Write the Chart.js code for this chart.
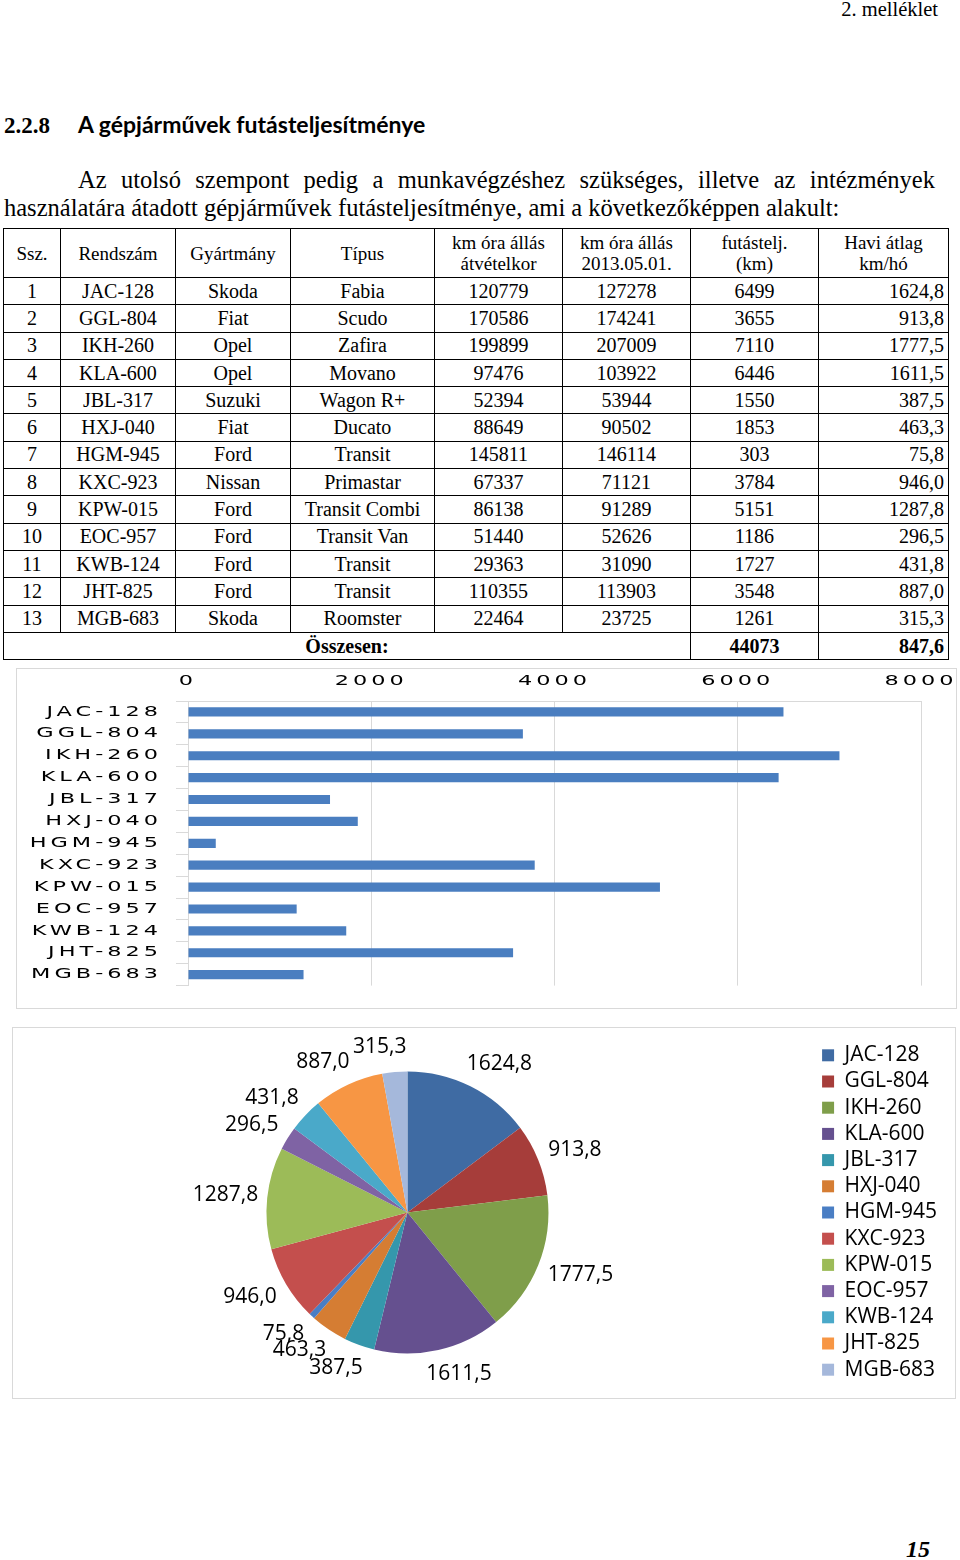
<!DOCTYPE html>
<html lang="hu">
<head>
<meta charset="utf-8">
<script src="https://cdn.jsdelivr.net/npm/chart.js@4.4.1/dist/chart.umd.min.js"></script>
<style>
  body { margin: 0; width: 960px; height: 1560px; position: relative; background: #fff; font-family: "Liberation Serif", serif; color: #000; overflow: hidden; }
  .abs { position: absolute; }
  #hdr { right: 22px; top: -2px; font-size: 20.5px; }
  #title { left: 4px; top: 110px; font-size: 23px; font-weight: bold; white-space: nowrap; }
  #title .num { font-family: "Liberation Serif", serif; display: inline-block; width: 74px; }
  #title .txt { font-family: Lato, sans-serif; }
  .line { font-size: 24.5px; white-space: nowrap; line-height: 28px; }
  #l1 { left: 78px; width: 857px; top: 166px; text-align: justify; text-align-last: justify; white-space: normal; }
  #l2 { left: 4px; top: 194px; }
  table { position: absolute; left: 3px; top: 228px; width: 945px; border-collapse: collapse; font-size: 20px; table-layout: fixed; }
  td, th { border: 1px solid #000; padding: 0 4px; text-align: center; font-weight: normal; line-height: 21px; }
  th { height: 48px; font-size: 19px; }
  td { height: 26.3px; }
  td.r { text-align: right; }
  tr.tot td { font-weight: bold; }
  .box { position: absolute; border: 1px solid #d9d9d9; }
  #page { right: 30px; top: 1536px; font-size: 24px; font-weight: bold; font-style: italic; }
</style>
</head>
<body>
<div class="abs" id="hdr">2. melléklet</div>
<div class="abs" id="title"><span class="num">2.2.8</span><span class="txt">A gépjárművek futásteljesítménye</span></div>
<div class="abs line" id="l1">Az utolsó szempont pedig a munkavégzéshez szükséges, illetve az intézmények</div>
<div class="abs line" id="l2">használatára átadott gépjárművek futásteljesítménye, ami a következőképpen alakult:</div>

<table id="tbl">
  <colgroup>
    <col style="width:57px"><col style="width:115px"><col style="width:115px"><col style="width:144px">
    <col style="width:128px"><col style="width:128px"><col style="width:128px"><col style="width:130px">
  </colgroup>
  <thead>
    <tr><th>Ssz.</th><th>Rendszám</th><th>Gyártmány</th><th>Típus</th>
      <th>km óra állás<br>átvételkor</th><th>km óra állás<br>2013.05.01.</th><th>futástelj.<br>(km)</th><th>Havi átlag<br>km/hó</th></tr>
  </thead>
  <tbody id="tbody"></tbody>
</table>

<div class="box" style="left:16px; top:668px; width:939px; height:339px;"></div>
<canvas id="barChart" class="abs" width="940" height="340" style="left:16px; top:668px;"></canvas>

<div class="box" style="left:12px; top:1027px; width:942px; height:370px;"></div>
<canvas id="pieChart" class="abs" width="957" height="371" style="left:-2px; top:1027px;"></canvas>

<div class="abs" id="page">15</div>

<script>
// adatok a táblázatból
const rendszam = ["JAC-128", "GGL-804", "IKH-260", "KLA-600", "JBL-317", "HXJ-040", "HGM-945",
  "KXC-923", "KPW-015", "EOC-957", "KWB-124", "JHT-825", "MGB-683"];
const gyartmany = ["Skoda", "Fiat", "Opel", "Opel", "Suzuki", "Fiat", "Ford", "Nissan", "Ford", "Ford", "Ford", "Ford", "Skoda"];
const tipus = ["Fabia", "Scudo", "Zafira", "Movano", "Wagon R+", "Ducato", "Transit", "Primastar",
  "Transit Combi", "Transit Van", "Transit", "Transit", "Roomster"];
const kmAtvetel = [120779, 170586, 199899, 97476, 52394, 88649, 145811, 67337, 86138, 51440, 29363, 110355, 22464];
const kmMost = [127278, 174241, 207009, 103922, 53944, 90502, 146114, 71121, 91289, 52626, 31090, 113903, 23725];
const futastelj = [6499, 3655, 7110, 6446, 1550, 1853, 303, 3784, 5151, 1186, 1727, 3548, 1261];
const haviAtlag = [1624.8, 913.8, 1777.5, 1611.5, 387.5, 463.3, 75.8, 946.0, 1287.8, 296.5, 431.8, 887.0, 315.3];
const osszFutas = 44073;
const osszHavi = 847.6;
const barTicks = [0, 2000, 4000, 6000, 8000];

const pieColors = ["#3F6BA3", "#A63D3A", "#7F9E4A", "#65508F", "#3597AC", "#D57D33", "#4A7EC4",
  "#C44F4D", "#9CBB58", "#7F63A4", "#4AA9C9", "#F79644", "#A5B8DB"];

const fmt = v => v.toFixed(1).replace(".", ",");

// táblázat
const tbody = document.getElementById("tbody");
rendszam.forEach((r, i) => {
  const tr = document.createElement("tr");
  tr.innerHTML = `<td>${i + 1}</td><td>${r}</td><td>${gyartmany[i]}</td><td>${tipus[i]}</td>` +
    `<td>${kmAtvetel[i]}</td><td>${kmMost[i]}</td><td>${futastelj[i]}</td><td class="r">${fmt(haviAtlag[i])}</td>`;
  tbody.appendChild(tr);
});
const tot = document.createElement("tr");
tot.className = "tot";
tot.innerHTML = `<td colspan="6">Összesen:</td><td>${osszFutas}</td><td class="r">${fmt(osszHavi)}</td>`;
tbody.appendChild(tot);

// széthúzott tengelyfeliratok (mint az eredeti ábrán)
function stretchLabels(scale, sx, ls) {
  scale.drawLabels = function (chartArea) {
    const ctx = this.ctx;
    for (const item of this.getLabelItems(chartArea)) {
      const o = item.options;
      ctx.save();
      ctx.translate(o.translation[0], o.translation[1]);
      ctx.scale(sx, 1);
      ctx.letterSpacing = ls;
      ctx.font = item.font.string;
      ctx.fillStyle = o.color;
      ctx.textAlign = o.textAlign;
      ctx.textBaseline = o.textBaseline;
      ctx.fillText(item.label, 0, item.textOffset);
      ctx.restore();
    }
  };
}
const stretch = {
  id: "stretch",
  beforeDraw(chart) {
    stretchLabels(chart.scales.x, 1.6, "2.5px");
    stretchLabels(chart.scales.y, 1.6, "2.5px");
  }
};

const tickFont = { family: "DejaVu Sans", size: 14 };

new Chart(document.getElementById("barChart"), {
  type: "bar",
  data: {
    labels: rendszam,
    datasets: [{
      data: futastelj,
      backgroundColor: "#4A7EC0",
      barPercentage: 0.42,
      categoryPercentage: 1,
    }],
  },
  options: {
    indexAxis: "y",
    responsive: false,
    animation: false,
    layout: { padding: { top: 0, right: 35, bottom: 21, left: 0 } },
    plugins: { legend: { display: false }, tooltip: { enabled: false } },
    scales: {
      x: {
        position: "top",
        min: barTicks[0],
        max: barTicks[barTicks.length - 1],
        afterBuildTicks: s => { s.ticks = barTicks.map(v => ({ value: v })); },
        ticks: { padding: 11, font: tickFont, color: "#000", callback: v => String(v) },
        grid: { color: "#d9d9d9", drawTicks: false },
        border: { color: "#d9d9d9" },
        afterFit: s => { s.height = 33; },
      },
      y: {
        ticks: { padding: 14, font: tickFont, color: "#000", autoSkip: false },
        grid: { offset: true, drawOnChartArea: false, tickLength: 12, color: "#d9d9d9" },
        border: { color: "#d9d9d9" },
        afterFit: s => { s.width = 172; },
      },
    },
  },
  plugins: [stretch],
});

// feliratok a körcikkek mellett
const pieLabels = {
  id: "pieLabels",
  afterDatasetsDraw(chart) {
    const ctx = chart.ctx;
    const meta = chart.getDatasetMeta(0);
    ctx.save();
    ctx.font = "21px 'Open Sans'";
    ctx.fillStyle = "#000";
    ctx.textAlign = "center";
    ctx.textBaseline = "middle";
    meta.data.forEach((arc, i) => {
      const { x, y, startAngle, endAngle, outerRadius } = arc.getProps(["x", "y", "startAngle", "endAngle", "outerRadius"], true);
      const mid = (startAngle + endAngle) / 2;
      const c = Math.cos(mid), s = Math.sin(mid);
      const txt = fmt(haviAtlag[i]);
      const w = ctx.measureText(txt).width;
      const h = 34;
      const d = outerRadius + 8;
      const push = 12 * Math.sign(c) * Math.abs(s);
      ctx.fillText(txt, x + d * c + c * w / 2 + push, y + d * s + s * h / 2);
    });
    ctx.restore();
  }
};

new Chart(document.getElementById("pieChart"), {
  type: "pie",
  data: {
    labels: rendszam,
    datasets: [{ data: haviAtlag, backgroundColor: pieColors, borderWidth: 0 }],
  },
  options: {
    responsive: false,
    animation: false,
    radius: 141,
    layout: { padding: { right: 8 } },
    plugins: {
      legend: {
        position: "right",
        labels: { boxWidth: 12, boxHeight: 12, padding: 5.2, font: { family: "Open Sans", size: 21 }, color: "#000" },
      },
      tooltip: { enabled: false },
    },
  },
  plugins: [pieLabels],
});
</script>
</body>
</html>
